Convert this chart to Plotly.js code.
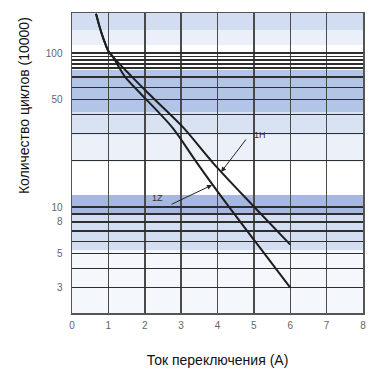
<!DOCTYPE html>
<html>
<head>
<meta charset="utf-8">
<script src="https://cdn.plot.ly/plotly-3.0.1.min.js"></script>
<style>html,body{margin:0;padding:0;background:#fff;}#chart{width:389px;height:371px;}</style>
</head>
<body>
<div id="chart"></div>
<script>
// Curve data (current in A, cycles in units of 10000)
const curve1H_x = [0.66, 0.77, 0.88, 0.99, 1.13, 1.65, 2.09, 3.05, 3.88, 5.03, 6.0];
const curve1H_y = [180, 145, 121, 104, 94, 70, 55, 33.0, 19.3, 9.9, 5.7];
const curve1Z_x = [0.66, 0.77, 0.88, 0.99, 1.13, 1.46, 1.87, 2.75, 3.44, 4.07, 5.03, 6.0];
const curve1Z_y = [180, 145, 121, 104, 94, 70, 55, 33.0, 19.3, 12.0, 6.0, 3.0];

const xTickVals = [0, 1, 2, 3, 4, 5, 6, 7, 8];
const yGridVals = [3, 4, 5, 6, 7, 8, 9, 10, 20, 30, 40, 50, 60, 70, 80, 85, 90, 95, 100];
const yLabelVals = [3, 5, 8, 10, 50, 100];

const yTickText = yGridVals.map(v => yLabelVals.includes(v) ? String(v) : '');

const lineStyle = {color: '#1e1e1e', width: 2, shape: 'spline', smoothing: 0.8};
const traces = [
  {x: curve1H_x, y: curve1H_y, mode: 'lines', name: '1H', line: lineStyle, hoverinfo: 'skip'},
  {x: curve1Z_x, y: curve1Z_y, mode: 'lines', name: '1Z', line: lineStyle, hoverinfo: 'skip'}
];

// shaded bands (paper coords)
function band(y0, y1, color) {
  return {type: 'rect', xref: 'paper', yref: 'paper', x0: 0, x1: 1, y0: y0, y1: y1,
          fillcolor: color, line: {width: 0}, layer: 'below'};
}
const P = py => (313 - py) / 300;
const shapes = [
  band(P(30), P(13), 'rgba(180,198,232,0.6)'),
  band(P(45), P(30), 'rgba(180,198,232,0.28)'),
  band(P(112), P(70), 'rgba(160,182,225,0.8)'),
  band(P(135), P(112), 'rgba(180,198,232,0.5)'),
  band(P(162), P(135), 'rgba(190,205,235,0.3)'),
  band(P(215), P(195), 'rgba(150,172,220,0.85)'),
  band(P(250), P(215), 'rgba(175,195,232,0.55)'),
  band(P(313), P(250), 'rgba(200,215,240,0.2)')
];

const annFont = {family: 'Liberation Sans, Arial, sans-serif', size: 9, color: '#333'};
const annotations = [
  {x: 5.17, y: Math.log10(29.4), xref: 'x', yref: 'y', text: '1H', showarrow: false, font: annFont},
  {x: 4.10, y: Math.log10(16.9), xref: 'x', yref: 'y', text: '', showarrow: true,
   arrowhead: 2, arrowsize: 1, arrowwidth: 1, arrowcolor: '#222', ax: 26, ay: -34},
  {x: 2.36, y: Math.log10(11.4), xref: 'x', yref: 'y', text: '1Z', showarrow: false, font: annFont},
  {x: 3.85, y: Math.log10(13.9), xref: 'x', yref: 'y', text: '', showarrow: true,
   arrowhead: 2, arrowsize: 1, arrowwidth: 1, arrowcolor: '#222', ax: -42, ay: 20},
  {x: -0.165, y: 0.693, xref: 'paper', yref: 'paper', text: 'Количество циклов (10000)',
   textangle: -90, showarrow: false, xanchor: 'center', yanchor: 'middle',
   font: {family: 'Liberation Sans, Arial, sans-serif', size: 14, color: '#111'}}
];

const tickFont = {family: 'Liberation Sans, Arial, sans-serif', size: 10, color: '#666'};
const layout = {
  width: 389, height: 371,
  margin: {l: 72, r: 26, t: 13, b: 58},
  paper_bgcolor: '#fff', plot_bgcolor: '#fff',
  showlegend: false,
  xaxis: {
    range: [0, 8], tickvals: xTickVals, ticks: '', showgrid: true,
    gridcolor: '#4a4a4a', gridwidth: 1.5, zeroline: false,
    showline: true, linecolor: '#555', linewidth: 1.5, mirror: true,
    tickfont: tickFont, ticklabelstandoff: 2,
    title: {text: 'Ток переключения (А)', standoff: 25,
            font: {family: 'Liberation Sans, Arial, sans-serif', size: 14, color: '#111'}}
  },
  yaxis: {
    type: 'log', range: [0.312, 2.26], tickvals: yGridVals, ticktext: yTickText,
    ticks: '', showgrid: true, gridcolor: '#2e2e2e', gridwidth: 1.3, zeroline: false,
    showline: true, linecolor: '#555', linewidth: 1.5, mirror: true,
    tickfont: tickFont, ticklabelstandoff: 6
  },
  shapes: shapes,
  annotations: annotations
};

Plotly.newPlot('chart', traces, layout, {staticPlot: true, displayModeBar: false});
</script>
</body>
</html>
